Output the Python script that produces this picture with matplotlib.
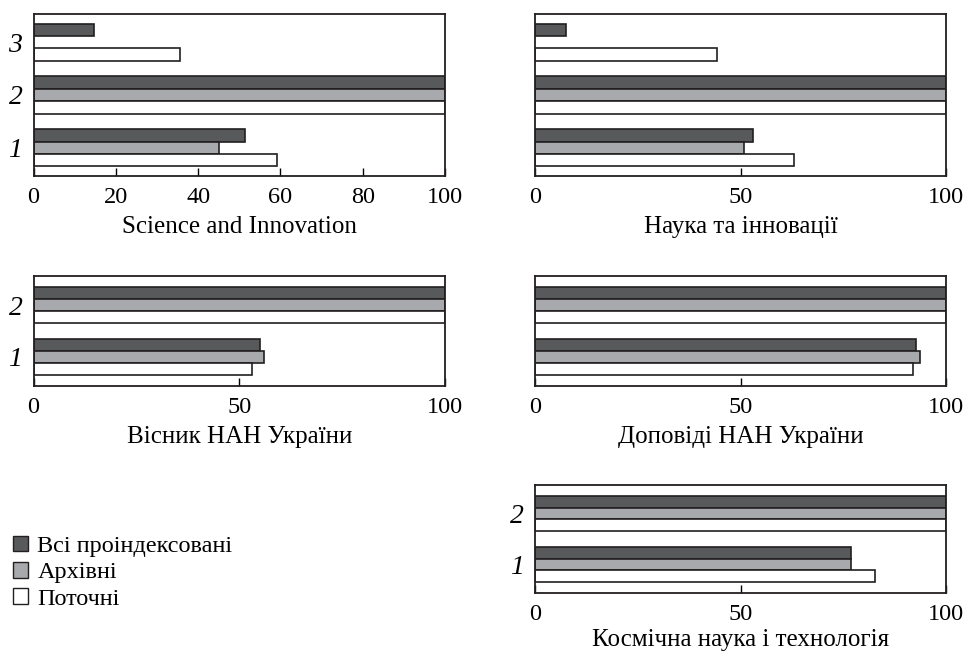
import matplotlib.pyplot as plt
from matplotlib.patches import Patch

plt.rcParams['font.family'] = ['Liberation Serif', 'DejaVu Serif']

series_names = ['Всі проіндексовані', 'Архівні', 'Поточні']
series_colors = ['#58595b', '#a7a9ac', '#ffffff']

titles = ['Science and Innovation', 'Наука та інновації',
          'Вісник НАН України', 'Доповіді НАН України',
          'Космічна наука і технологія']

# values per group (1, 2, 3) for each series; None = no bar
sci_all = [51.3, 100, 14.6]
sci_arch = [45.0, 100, None]
sci_cur = [59.1, 100, 35.5]

nauka_all = [53.0, 100, 7.5]
nauka_arch = [50.9, 100, None]
nauka_cur = [63.0, 100, 44.4]

visnyk_all = [55.0, 100]
visnyk_arch = [56.0, 100]
visnyk_cur = [53.1, 100]

dopovidi_all = [92.6, 100]
dopovidi_arch = [93.6, 100]
dopovidi_cur = [92.0, 100]

kosm_all = [76.9, 100]
kosm_arch = [76.9, 100]
kosm_cur = [82.8, 100]

panels = [
    (sci_all, sci_arch, sci_cur, [0, 20, 40, 60, 80, 100], True),
    (nauka_all, nauka_arch, nauka_cur, [0, 50, 100], False),
    (visnyk_all, visnyk_arch, visnyk_cur, [0, 50, 100], True),
    (dopovidi_all, dopovidi_arch, dopovidi_cur, [0, 50, 100], False),
    (kosm_all, kosm_arch, kosm_cur, [0, 50, 100], True),
]

W, H = 968, 654
# axes boxes in pixels: left, top, right, bottom
boxes = [
    (33.5, 14, 445, 176),
    (535, 14, 946, 176),
    (33.5, 276, 445, 386),
    (535, 276, 946, 386),
    (535, 485, 946, 593),
]

fig = plt.figure(figsize=(W / 100, H / 100), dpi=100)
bh = 0.233
edge = '#231f20'

for i, ((l, t, r, b), title, (s_all, s_arch, s_cur, ticks, ylab)) in enumerate(zip(boxes, titles, panels)):
    ax = fig.add_axes([l / W, 1 - b / H, (r - l) / W, (b - t) / H])
    n = len(s_all)
    groups = list(range(1, n + 1))
    for vals, off, col in zip([s_all, s_arch, s_cur], [bh, 0, -bh], series_colors):
        for g, v in zip(groups, vals):
            if v is None:
                continue
            ax.barh(g + off, v, height=bh, color=col, edgecolor=edge, linewidth=1.2)
    pad = 0.53 if n == 3 else 0.56
    ax.set_ylim(1 - pad, n + pad)
    ax.set_xlim(0, 100)
    ax.set_xticks(ticks)
    ax.set_xticklabels([str(x) for x in ticks], fontsize=17.5)
    ax.tick_params(axis='x', direction='in', length=6, width=1, pad=8)
    ax.xaxis.set_ticks_position('bottom')
    ax.set_yticks(groups)
    if ylab:
        ax.set_yticklabels([str(g) for g in groups], fontsize=20, style='italic')
    else:
        ax.set_yticklabels([])
    ax.tick_params(axis='y', length=0, pad=8)
    for sp in ax.spines.values():
        sp.set_linewidth(1.3)
        sp.set_color(edge)
    ax.set_xlabel(title, fontsize=18, labelpad=6 if i < 4 else 3)

handles = [Patch(facecolor=c, edgecolor=edge, linewidth=1.0) for c in series_colors]
fig.legend(handles, series_names, loc='upper left', bbox_to_anchor=(13 / W, 1 - 536 / H),
           frameon=False, fontsize=17.5, handlelength=0.6, handleheight=0.6,
           handletextpad=0.4, labelspacing=0.2, borderaxespad=0, borderpad=0)

fig.savefig('out.png', dpi=100)
